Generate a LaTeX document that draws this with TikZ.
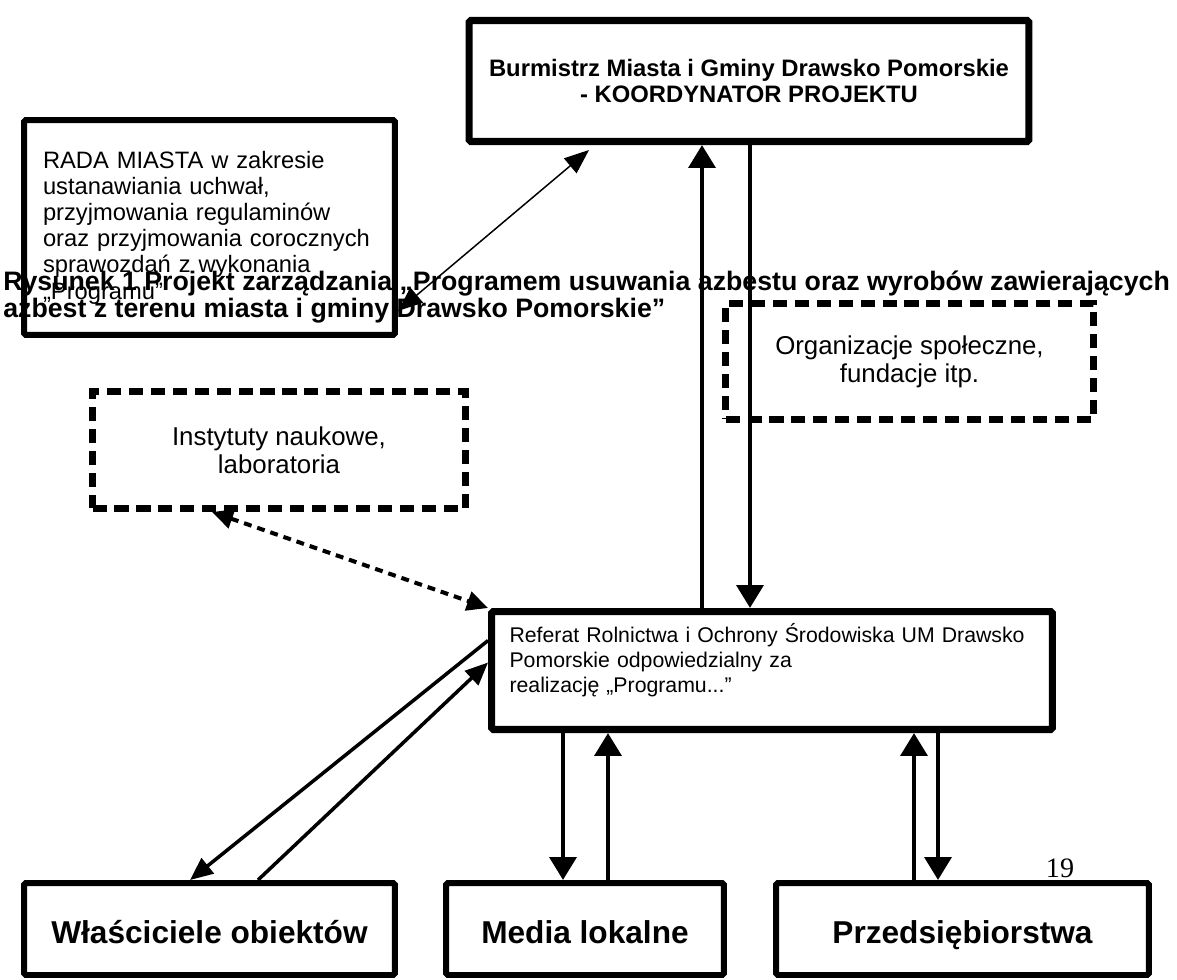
\documentclass[tikz,border=0pt]{standalone}
\usepackage{fontspec}
\setmainfont{Liberation Sans}
\newfontfamily\pagefont{Liberation Serif}
\usetikzlibrary{arrows.meta}

\begin{document}
\begin{tikzpicture}[x=0.02cm,y=-0.02cm,
  box/.style={draw,line width=3.8pt,rounded corners=1pt,inner sep=0pt},
  dashbox/.style={draw,line width=4pt,dash pattern=on 8pt off 4.5pt,inner sep=0pt,
    align=center,font=\fontsize{14.7}{15.9}\selectfont},
  botbox/.style={box,line width=3.4pt,minimum height=1.84cm,text height=18pt,text depth=1pt,
    font=\bfseries\fontsize{18}{20}\selectfont},
  bigarrow/.style={line width=2.8pt,-{Triangle[length=13pt,width=15pt]}},
  midarrow/.style={line width=2pt,-{Triangle[length=13pt,width=11pt]}},
  thinarrow/.style={line width=0.85pt,{Triangle[length=14pt,width=11pt]}-{Triangle[length=14pt,width=11pt]}},
  dotarrow/.style={line width=2.3pt,dash pattern=on 4.5pt off 3.4pt,
    {Triangle[length=12pt,width=11pt]}-{Triangle[length=12pt,width=11pt]}}]

\useasboundingbox (0,0) rectangle (1177,980);

% coordinator
\node[box,line width=4pt,minimum width=11.2cm,minimum height=2.42cm,align=center,
  font=\bfseries\fontsize{13.55}{15.3}\selectfont] (burm) at (749,81)
  {Burmistrz Miasta i Gminy Drawsko Pomorskie\\- KOORDYNATOR PROJEKTU};

% council
\node[box,line width=3.4pt,text width=6.66cm,inner xsep=0.38cm,minimum height=4.3cm,
  align=left,font=\fontsize{13.5}{14.9}\selectfont] (rada) at (209.5,227.5)
  {RADA MIASTA w zakresie\\ustanawiania uchwał,\\przyjmowania regulaminów\\oraz przyjmowania corocznych\\sprawozdań z wykonania\\„Programu”};

% dashed partners
\node[dashbox,minimum width=7.36cm,minimum height=2.32cm] (org) at (909.5,361.5)
  {Organizacje społeczne,\\fundacje itp.};
\node[dashbox,minimum width=7.46cm,minimum height=2.34cm] (inst) at (279,450)
  {Instytuty naukowe,\\laboratoria};

% office
\node[box,line width=4pt,text width=10.5cm,inner xsep=0.36cm,minimum height=2.36cm,
  align=left,font=\fontsize{12.1}{14.2}\selectfont] (ref) at (772,670.5)
  {Referat Rolnictwa i Ochrony Środowiska UM Drawsko\\Pomorskie odpowiedzialny za\\realizację „Programu...”\\ \mbox{}};

% bottom row
\node[botbox,minimum width=7.42cm] (wl) at (209.5,929) {Właściciele obiektów};
\node[botbox,minimum width=5.56cm] (med) at (585,929) {Media lokalne};
\node[botbox,minimum width=7.46cm] (prz) at (962.5,929) {Przedsiębiorstwa};

% caption over everything
\node[anchor=base west,align=left,inner sep=0pt,
  font=\bfseries\fontsize{15.2}{15.3}\selectfont] (title) at (3,317)
  {Rysunek 1 Projekt zarządzania „Programem usuwania azbestu oraz wyrobów zawierających\\azbest z terenu miasta i gminy Drawsko Pomorskie”};

\node[inner sep=0pt,font=\pagefont\fontsize{16}{16}\selectfont] (pagenum) at (1060,868) {19};

% connections
\draw[thinarrow] ([yshift=0.54cm]rada.south east) -- ([xshift=2.47cm,yshift=-0.1cm]burm.south west);
\draw[bigarrow] (ref.north -| 702,0) -- (burm.south -| 702,0);
\draw[bigarrow] (burm.south -| 750,0) -- (ref.north -| 750,0);
\draw[dotarrow] (inst.south -| 212,0) -- (ref.north west);

\draw[midarrow] ([yshift=0.6cm]ref.west) -- (wl.north -| 190,0);
\draw[midarrow] (wl.north -| 258,0) -- ([yshift=0.16cm]ref.west);
\draw[bigarrow] (ref.south -| 563,0) -- (med.north -| 563,0);
\draw[bigarrow] (med.north -| 608,0) -- (ref.south -| 608,0);
\draw[bigarrow] (prz.north -| 914,0) -- (ref.south -| 914,0);
\draw[bigarrow] (ref.south -| 938,0) -- (prz.north -| 938,0);

\end{tikzpicture}
\end{document}
